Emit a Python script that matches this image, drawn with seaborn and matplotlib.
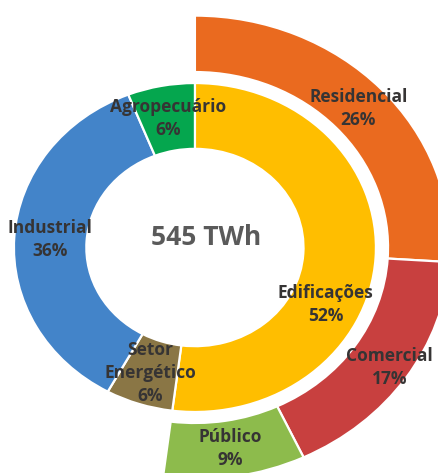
import numpy as np
import matplotlib
matplotlib.use("Agg")
import matplotlib.pyplot as plt
import seaborn as sns

# Electricity consumption by sector (inner ring) and the split of buildings (outer ring)
sectors = ["Edificações", "Setor\nEnergético", "Industrial", "Agropecuário"]
sector_share = [52, 6, 36, 6]
building_uses = ["Residencial", "Comercial", "Público"]
building_share = [26, 17, 9]
total_label = "545 TWh"

sector_colors = ["#FFBE00", "#8A7645", "#4384C9", "#05A64E"]
building_colors = ["#EA6A1F", "#C8403F", "#8DBB4C"]

sns.set_theme(style="white")
plt.rcParams["font.family"] = ["Open Sans", "DejaVu Sans"]

fig = plt.figure(figsize=(4.38, 4.73), dpi=100)
ax = fig.add_axes([0, 0, 1, 1])

inner_r, inner_w = 1.0, 0.40
outer_r, outer_w = 1.41, 0.343
edge = dict(edgecolor="white", linewidth=1.6)

inner_wedges, _ = ax.pie(sector_share, radius=inner_r, startangle=90,
                         counterclock=False, colors=sector_colors,
                         wedgeprops=dict(width=inner_w, **edge))

# outer ring only covers the buildings share; the remainder stays hidden
rest = sum(sector_share) - sum(building_share)
outer_wedges, _ = ax.pie(building_share + [rest], radius=outer_r, startangle=90,
                         counterclock=False,
                         colors=building_colors + ["none"],
                         wedgeprops=dict(width=outer_w, **edge))
outer_wedges[-1].set_visible(False)

ax.set_aspect("auto")
ax.set_xlim(-1.077, 1.343)
ax.set_ylim(-1.371, 1.505)
ax.axis("off")

label_style = dict(ha="center", va="center", fontsize=12.5, fontweight="bold",
                   color="#363434", linespacing=1.35)
angle_shift = {"Edificações": -22}
radial_push = {"Comercial": 0.06}


def put_labels(wedges, names, shares):
    for wedge, name, share in zip(wedges, names, shares):
        mid = 0.5 * (wedge.theta1 + wedge.theta2) + angle_shift.get(name, 0)
        r = wedge.r - wedge.width / 2 + radial_push.get(name, 0)
        x = r * np.cos(np.deg2rad(mid))
        y = r * np.sin(np.deg2rad(mid))
        ax.text(x, y, f"{name}\n{share}%", **label_style)


put_labels(inner_wedges, sectors, sector_share)
put_labels(outer_wedges[:-1], building_uses, building_share)

ax.text(0.06, 0.06, total_label, ha="center", va="center", fontsize=19,
        fontweight="bold", color="#5A5A5A")

fig.savefig("out.png", dpi=100, facecolor="white")
